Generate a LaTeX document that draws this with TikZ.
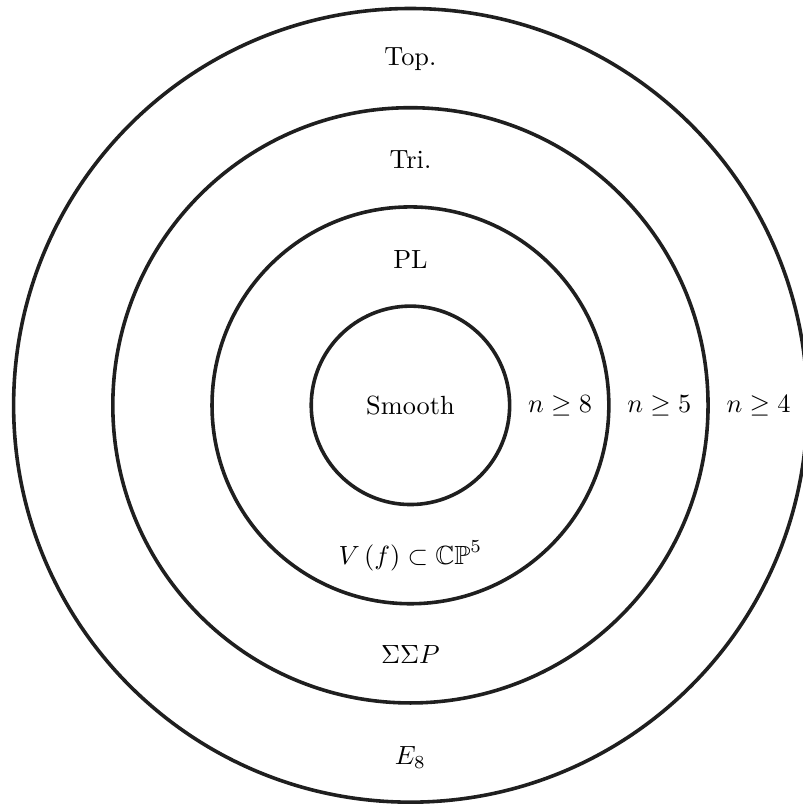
\documentclass[tikz,border=0pt]{standalone}
\usepackage{amsmath,amssymb}
\newcommand{\lblsc}[1]{\scalebox{1.32}{#1}}
\begin{document}
\begin{tikzpicture}[ring/.style={draw=black!88, line width=1.8pt}, lbl/.style={inner sep=0pt}]
\useasboundingbox (-7.24cm,-7.05cm) rectangle (6.92cm,7.15cm);
\node[ring, circle, minimum size=14cm, inner sep=0pt] (c4) at (0,0) {};
\node[ring, circle, minimum size=10.5cm, inner sep=0pt] (c3) at (0,0) {};
\node[ring, circle, minimum size=7cm, inner sep=0pt] (c2) at (0,0) {};
\node[ring, circle, minimum size=3.5cm, inner sep=0pt] (c1) at (0,0) {};
\node[lbl] (smooth) at (0,0) {\lblsc{Smooth}};
\node[lbl] (top) at (0,6.1) {\lblsc{Top.}};
\node[lbl] (tri) at (0,4.33) {\lblsc{Tri.}};
\node[lbl] (pl) at (0,2.58) {\lblsc{PL}};
\node[lbl] (vf) at (0,-2.66) {\lblsc{$V\left(f\right)\subset\mathbb{CP}^5$}};
\node[lbl] (ssp) at (0,-4.4) {\lblsc{$\Sigma\Sigma P$}};
\node[lbl] (e8) at (0,-6.22) {\lblsc{$E_8$}};
\node[lbl] (n8) at (2.64,0) {\lblsc{$n\geq 8$}};
\node[lbl] (n5) at (4.39,0) {\lblsc{$n\geq 5$}};
\node[lbl] (n4) at (6.14,0) {\lblsc{$n\geq 4$}};
\end{tikzpicture}
\end{document}
